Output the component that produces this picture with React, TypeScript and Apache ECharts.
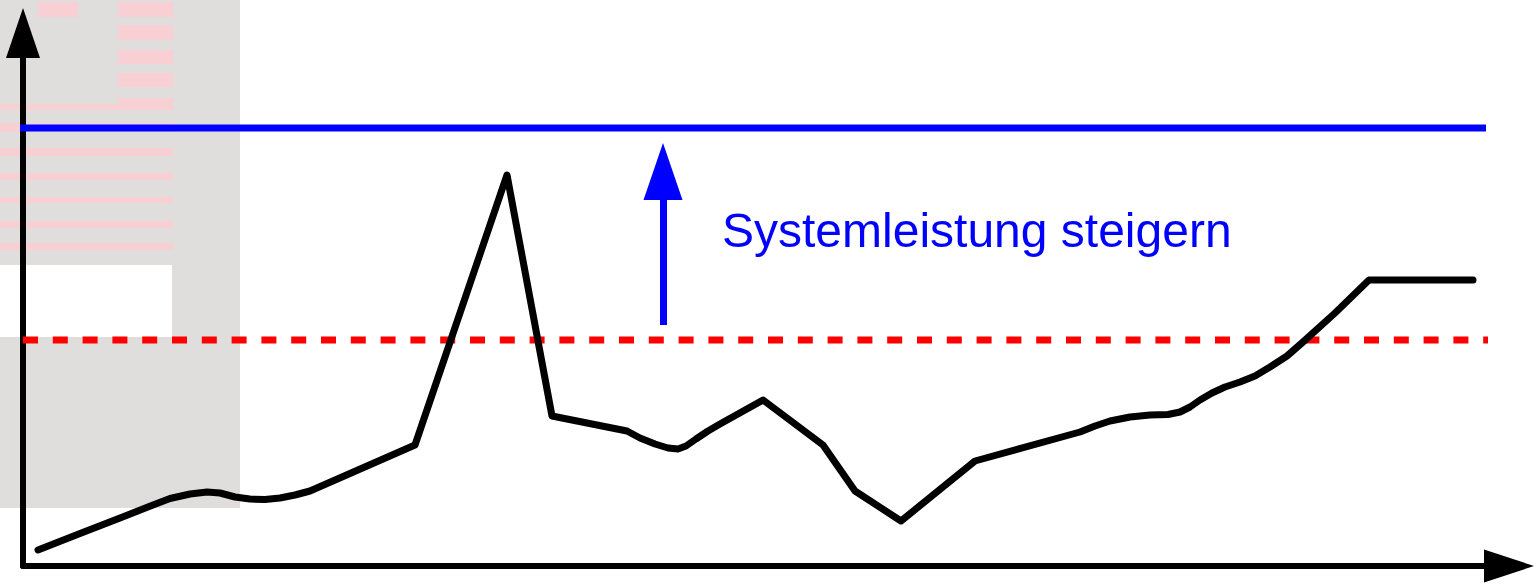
import React, { useEffect, useRef } from "react";
import * as echarts from "echarts";

// time axis (units from left axis) and load values (units above x axis)
const timeValues = [15, 57, 97, 130, 147, 167, 184, 197, 212, 227, 242, 257, 272, 287, 392, 484, 529, 604, 617, 632, 645, 655, 663, 673, 685, 697, 740, 800, 832, 878, 952, 1057, 1072, 1087, 1107, 1127, 1145, 1157, 1167, 1177, 1189, 1202, 1217, 1232, 1247, 1264, 1280, 1312, 1346, 1450];
const loadValues = [16, 32.5, 48, 61, 67.5, 72, 74, 73, 69, 67, 66.5, 68, 71, 75, 121, 391, 150, 135, 128, 122, 118, 117, 120, 127, 135, 142, 166, 121, 75, 45, 105, 134, 140, 145, 149, 151, 151.5, 154, 159, 166, 173, 179, 184, 190, 199, 210, 224, 253, 286, 286];

const capacityLevel = 438; // blue line
const capacityStart = -3;
const capacityEnd = 1463;
const thresholdLevel = 226; // red dashed line
const thresholdStart = 0;
const thresholdEnd = 1467;
const arrowX = 640;
const arrowFrom = 241;
const arrowTo = 394.5;
const xMax = 1461;
const yMax = 508;
const caption = "Systemleistung steigern";

// decorative background stripes [x, y, w, h]
const stripes: number[][] = [
  [38, 2, 40, 15],
  [118, 2, 55, 15],
  [118, 25, 55, 15],
  [118, 50, 55, 14],
  [118, 73, 55, 14],
  [118, 98, 55, 12],
  [0, 104, 118, 6],
  [0, 123, 173, 9],
  [0, 148, 173, 8],
  [0, 173, 173, 7],
  [0, 197, 173, 6],
  [0, 221, 173, 7],
  [0, 243, 173, 7],
];

export default function App() {
  const ref = useRef<HTMLDivElement>(null);
  useEffect(() => {
    if (!ref.current) return;
    const chart = echarts.init(ref.current, null, { renderer: "svg" });
    const graphics: any[] = [
      { type: "rect", z: -10, shape: { x: 0, y: 0, width: 240, height: 508 }, style: { fill: "#e0dddd" } },
      { type: "rect", z: -9, shape: { x: 0, y: 265, width: 172, height: 72 }, style: { fill: "#ffffff" } },
      ...stripes.map((s) => ({
        type: "rect",
        z: -8,
        shape: { x: s[0], y: s[1], width: s[2], height: s[3] },
        style: { fill: "#f8cfd3" },
      })),
      {
        type: "text",
        z: 10,
        left: 722,
        top: 206,
        style: {
          text: caption,
          fill: "#0000ff",
          font: "48px 'Liberation Sans', Arial, sans-serif",
        },
      },
    ];
    const axisLine = (w: number) => ({
      show: true,
      symbol: ["none", "triangle"],
      symbolSize: [w, 50],
      symbolOffset: [0, 25],
      lineStyle: { color: "#000", width: 6 },
    });
    chart.setOption({
      animation: false,
      grid: { left: 23, top: 58, width: xMax, height: yMax },
      xAxis: {
        type: "value",
        min: 0,
        max: xMax,
        axisLine: axisLine(33),
        axisTick: { show: false },
        axisLabel: { show: false },
        splitLine: { show: false },
      },
      yAxis: {
        type: "value",
        min: 0,
        max: yMax,
        axisLine: axisLine(34),
        axisTick: { show: false },
        axisLabel: { show: false },
        splitLine: { show: false },
      },
      graphic: graphics,
      series: [
        {
          type: "line",
          name: "capacity",
          data: [[capacityStart, capacityLevel], [capacityEnd, capacityLevel]],
          clip: false,
          showSymbol: false,
          symbol: "none",
          lineStyle: { color: "#0000ff", width: 7 },
          z: 3,
        },
        {
          type: "line",
          name: "threshold",
          data: [[thresholdStart, thresholdLevel], [thresholdEnd, thresholdLevel]],
          clip: false,
          showSymbol: false,
          symbol: "none",
          lineStyle: { color: "#ff0000", width: 7, type: [15, 14.8] },
          z: 3,
        },
        {
          type: "line",
          name: "load",
          data: timeValues.map((t, i) => [t, loadValues[i]]),
          showSymbol: false,
          symbol: "none",
          lineStyle: { color: "#000", width: 7, cap: "round", join: "round" },
          z: 5,
          markLine: {
            silent: true,
            symbol: "none",
            label: { show: false },
            data: [
              [
                { coord: [arrowX, arrowFrom], symbol: "none", lineStyle: { color: "#0000ff", width: 7, type: "solid" } },
                { coord: [arrowX, arrowTo], symbol: "triangle", symbolSize: [39, 57] },
              ],
            ],
          },
        },
      ],
    });
    return () => chart.dispose();
  }, []);
  return <div ref={ref} style={{ position: "fixed", left: 0, top: 0, width: 1536, height: 588 }} />;
}
